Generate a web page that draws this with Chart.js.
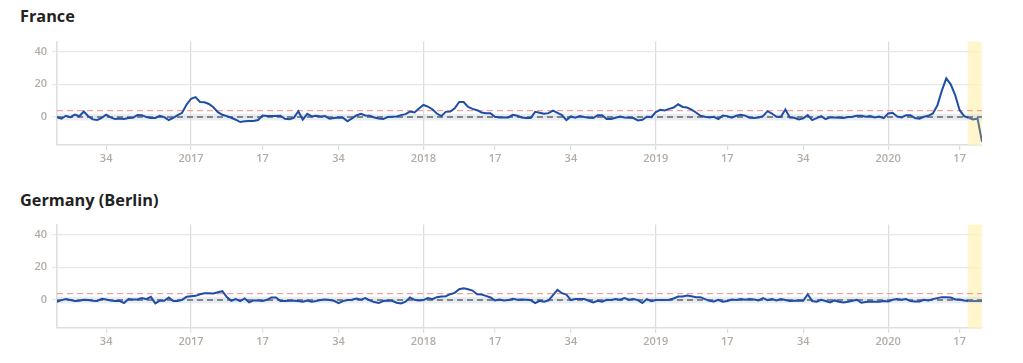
<!DOCTYPE html>
<html>
<head>
<meta charset="utf-8">
<script src="https://cdn.jsdelivr.net/npm/chart.js@4"></script>
<style>
  body { margin: 0; background: #fff; width: 1023px; height: 363px; overflow: hidden; font-family: "Open Sans", sans-serif; }
  .judul { position: absolute; left: 20px; font-size: 16.3px; font-weight: 700; color: #222; }
  .kotak { position: absolute; left: 0; width: 990px; height: 145px; }
</style>
</head>
<body>
<div class="judul" style="top:5px">France</div>
<div class="kotak" style="top:30px"><canvas id="chart-france"></canvas></div>
<div class="judul" style="top:189px">Germany (Berlin)</div>
<div class="kotak" style="top:213px"><canvas id="chart-germany"></canvas></div>
<script>
// week index 0 = 2016 week 23, last = 2020 week 22
const tickPos  = [11, 30, 46, 63, 82, 98, 115, 134, 150, 167, 186, 202];
const tickText = ['34', '2017', '17', '34', '2018', '17', '34', '2019', '17', '34', '2020', '17'];
const yearTicks = [30, 82, 134, 186];
const yTicks = [0, 20, 40];
const batasAtas = 4;        // red dashed threshold
const pita = [-2, 2];       // band round zero
const mulaiSorot = 203.8;   // highlighted (incomplete) weeks start

const france = [
  0, -1, 0.8, 0, 1.5, 0.5, 3.4, 0.5, -1.4, -1.8,
  -0.5, 1.4, -0.2, -1.2, -0.8, -1.2, -0.6, -0.4, 1.3, 1.2,
  0, -0.6, -0.5, 0.8, 0, -1.8, -0.4, 1.2, 2.6, 7.6,
  11.2, 12.2, 9.2, 9, 8, 6, 3, 1.4, 0.6, -0.4,
  -1.6, -3, -2.6, -2.4, -2.4, -1.8, 1, 0.6, 0.6, 0.6,
  0.8, -1, -1.3, -0.5, 3.6, -1.6, 2, 0.4, 0.8, 0.4,
  0.6, -1, -0.6, -0.2, -0.4, -2.6, -0.8, 1, 2, 1,
  0.8, -0.2, -0.8, -1.2, 0, 0.2, 0.4, 1.2, 1.8, 3.4,
  2.8, 5.2, 7.4, 6.4, 4.8, 2.2, 0.6, 3.2, 3.4, 5.4,
  9.2, 9.2, 6.2, 5, 4.2, 2.8, 2.4, 2.4, 0.2, -0.2,
  -0.2, -0.2, 1.4, 0.8, -0.2, -0.6, -0.6, 3.2, 2.6, 2,
  2.4, 4, 2.6, 1.2, -1.8, 0.4, -0.4, 0.6, 0, -0.4,
  -0.6, 1.2, 1.2, -1.2, -1.2, -0.4, 0.4, -0.2, -0.4, -0.6,
  -2, -1.6, 0.2, 0, 3, 4.4, 4, 5, 5.8, 7.8,
  6.2, 5.8, 4.6, 2.8, 0.8, 0.2, -0.2, 0.2, -1.2, 1,
  0.6, -0.4, 0.8, 1.4, 0.9, -0.4, -0.6, -0.2, 0.6, 3.6,
  2.2, 0.2, 0.2, 4.6, -0.2, -0.4, -1.4, -0.8, 1.2, -1.8,
  -0.6, 0.6, -1.2, -0.2, -0.2, -0.4, -0.6, 0, 0.2, 0.8,
  0.8, 0.2, 0.6, -0.2, 0.4, -0.6, 2.2, 2.6, 0.4, -0.2,
  1.2, 1.2, -0.6, -1, 0.2, 0.8, 2.2, 7, 16, 23.6,
  20, 13.4, 4.2, 0.6, -0.4, -1.4, -0.8, -15
];

const germany = [
  -1, 0, 0.6, 0, -0.6, -0.4, 0.2, 0, -0.4, -0.6,
  0.8, 0.4, -0.2, -0.6, -0.4, -1.8, 0.6, 0.4, 0.4, 1.2,
  0.6, 2, -2, -0.4, -0.4, 1.6, -0.6, -0.6, 0.2, 2,
  2.4, 2.6, 3.6, 4.2, 4.2, 4, 4.8, 5.4, 1.8, -0.4,
  0.6, -0.6, 1, -1.4, -0.2, -0.2, -0.6, 0.2, 1.6, 1.6,
  -0.6, -0.6, -0.4, -0.4, -0.6, -1, -0.2, -1, -0.6, 0,
  0.4, 0, -0.4, -1.8, -0.6, 0, 0.2, 1, 0.2, 1.2,
  -0.2, -1.2, -1.8, -0.6, -0.2, -0.4, -1.6, -2, -1, 1.6,
  0.2, -0.2, 0, 1.2, 0.6, 1.8, 2.2, 2.4, 3.6, 4.4,
  6.6, 7.2, 6.6, 5.8, 3.6, 3.4, 2.6, 1.6, -0.2, 0.4,
  -0.2, 0, 0.8, 0.2, 0.4, 0.2, 0, -1.8, -0.4, -1,
  -0.2, 3, 6.2, 4.2, 3.4, 0, 0.6, 0.6, 0.6, -0.4,
  -1.4, -0.4, -1, 0.2, 0, 0.6, 0.2, 1.2, 0.2, 0.6,
  0, -1.8, 0.6, -0.6, 0, 0, 0, 0.2, 1, 2.2,
  2.2, 2.8, 2.4, 1.8, 1.8, 0.6, -0.4, -0.8, 0.2, -1,
  -0.6, 0.4, 0, 0.6, 0.2, 0.6, 0.4, -0.2, 1.2, 0,
  0.6, -0.2, 0.6, 0, -0.6, -0.4, -0.2, -0.4, 3.6, -0.6,
  -1, 0.2, -0.6, -1.4, -0.2, -1, -1.4, -1, -0.4, 0.2,
  -1.6, -1.2, -0.8, -1, -1, -0.6, -0.8, 0.2, 0.6, 0.2,
  0.6, -0.6, -0.8, -0.8, 0.2, -0.2, 0.6, 1.2, 1.8, 1.8,
  1.6, 0.4, 0.4, -0.2, -0.6, -0.6, -0.6, -0.6
];

// plugin: band, threshold lines, highlight
const latarPlugin = {
  id: 'latar',
  beforeDatasetsDraw(chart) {
    const { ctx, chartArea: a, scales: { x, y } } = chart;
    ctx.save();
    const xs = x.getPixelForValue(mulaiSorot);
    ctx.fillStyle = 'rgba(255,243,190,0.75)';
    ctx.fillRect(xs, a.top, a.right - xs, a.bottom - a.top);

    const y1 = y.getPixelForValue(pita[1]), y0 = y.getPixelForValue(pita[0]);
    ctx.fillStyle = 'rgba(208,220,232,0.5)';
    ctx.fillRect(a.left, y1, a.right - a.left, y0 - y1);

    ctx.setLineDash([6, 4]);
    ctx.lineWidth = 1.3;
    ctx.strokeStyle = '#f5a0a0';
    let yy = y.getPixelForValue(batasAtas);
    ctx.beginPath(); ctx.moveTo(a.left, yy); ctx.lineTo(a.right, yy); ctx.stroke();

    ctx.lineWidth = 2;
    ctx.strokeStyle = '#858585';
    yy = y.getPixelForValue(0);
    ctx.beginPath(); ctx.moveTo(a.left, yy); ctx.lineTo(a.right, yy); ctx.stroke();
    ctx.restore();
  }
};

function buatChart(id, values) {
  const ctx = document.getElementById(id).getContext('2d');
  return new Chart(ctx, {
    type: 'line',
    data: {
      datasets: [{
        data: values.map((v, i) => ({ x: i, y: v })),
        borderColor: '#1f4ea6',
        borderWidth: 2,
        pointRadius: 0,
        tension: 0,
        segment: {
          borderColor: c => c.p0DataIndex >= 204 ? '#5d6f8e' : undefined
        }
      }]
    },
    options: {
      responsive: true,
      maintainAspectRatio: false,
      animation: false,
      layout: { padding: { top: 10, right: 8, left: 0, bottom: 0 } },
      plugins: { legend: { display: false }, tooltip: { enabled: false } },
      scales: {
        x: {
          type: 'linear',
          min: 0,
          max: values.length - 1,
          afterBuildTicks: s => { s.ticks = tickPos.map(v => ({ value: v })); },
          afterFit: s => { s.height = 30; },
          ticks: {
            autoSkip: false,
            maxRotation: 0,
            padding: 2,
            color: '#b3aba4',
            font: { family: 'Open Sans', size: 11, weight: '600' },
            callback: (v) => tickText[tickPos.indexOf(v)]
          },
          grid: {
            color: c => yearTicks.includes(c.tick && c.tick.value) ? '#dcdcdc' : 'rgba(0,0,0,0)',
            tickColor: '#dcdcdc',
            tickLength: 5,
            lineWidth: 1.2
          },
          border: { color: '#dedede', width: 1.5 }
        },
        y: {
          min: -17,
          max: 46,
          afterBuildTicks: s => { s.ticks = yTicks.map(v => ({ value: v })); },
          afterFit: s => { s.width = 57; },
          ticks: {
            padding: 5,
            color: '#b3aba4',
            font: { family: 'Open Sans', size: 11, weight: '600' }
          },
          grid: { color: '#e8e8e8', tickColor: '#e8e8e8', tickLength: 5, lineWidth: 1.2 },
          border: { color: '#dedede', width: 1.5 }
        }
      }
    },
    plugins: [latarPlugin]
  });
}

buatChart('chart-france', france);
buatChart('chart-germany', germany);
</script>
</body>
</html>
